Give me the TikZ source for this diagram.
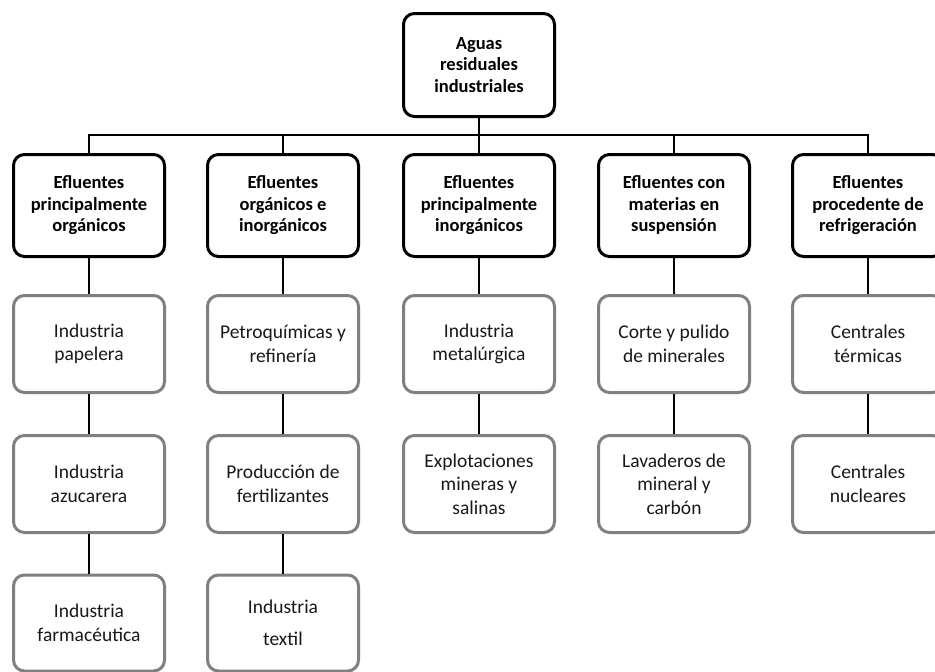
\documentclass[tikz,border=0pt]{standalone}
\usepackage{fontspec}
\setmainfont{Carlito}
\usetikzlibrary{shadows}
\begin{document}
\begin{tikzpicture}[x=1pt,y=-1pt,
  mainbox/.style={draw=black,line width=3pt,rounded corners=11pt,fill=white,
    drop shadow={opacity=0.2,shadow xshift=1.5pt,shadow yshift=-1.5pt},
    minimum width=151pt,minimum height=102pt,align=center,inner sep=2pt,
    font=\bfseries\fontsize{18.5}{21.5}\selectfont,text=black},
  subbox/.style={draw=black!50,line width=3pt,rounded corners=11pt,fill=white,
    drop shadow={opacity=0.15,shadow xshift=1.5pt,shadow yshift=-1.5pt},
    minimum width=151pt,minimum height=97pt,align=center,inner sep=2pt,
    font=\fontsize{19.5}{23.5}\selectfont,text=black!90},
  conn/.style={draw=black,line width=2pt}]
\useasboundingbox (0,0) rectangle (935,672);
% top
\node[mainbox,minimum height=103pt] (top) at (479,65) {Aguas\\residuales\\industriales};
% level 1
\node[mainbox] (e1) at (89,205.5) {Efluentes\\principalmente\\orgánicos};
\node[mainbox] (e2) at (283,205.5) {Efluentes\\orgánicos e\\inorgánicos};
\node[mainbox] (e3) at (479,205.5) {Efluentes\\principalmente\\inorgánicos};
\node[mainbox] (e4) at (674,205.5) {Efluentes con\\materias en\\suspensión};
\node[mainbox] (e5) at (868,205.5) {Efluentes\\procedente de\\refrigeración};
% level 2
\node[subbox] (a1) at (89,344) {Industria\\papelera};
\node[subbox] (b1) at (283,344) {Petroquímicas y\\refinería};
\node[subbox] (c1) at (479,344) {Industria\\metalúrgica};
\node[subbox] (d1) at (674,344) {Corte y pulido\\de minerales};
\node[subbox] (f1) at (868,344) {Centrales\\térmicas};
% level 3
\node[subbox] (a2) at (89,484) {Industria\\azucarera};
\node[subbox] (b2) at (283,484) {Producción de\\fertilizantes};
\node[subbox] (c2) at (479,484) {Explotaciones\\mineras y\\salinas};
\node[subbox] (d2) at (674,484) {Lavaderos de\\mineral y\\carbón};
\node[subbox] (f2) at (868,484) {Centrales\\nucleares};
% level 4
\node[subbox,minimum height=96pt] (a3) at (89,623) {Industria\\farmacéutica};
\node[subbox,minimum height=96pt,font=\fontsize{19.5}{32}\selectfont] (b3) at (283,623) {Industria\\textil};
% connectors
\coordinate (bar) at (479,134.5);
\draw[conn] (top.south) -- (bar);
\draw[conn] (e1.north) |- (bar) -| (e5.north);
\draw[conn] (e2.north) -- (e2.north |- bar);
\draw[conn] (e3.north) -- (bar);
\draw[conn] (e4.north) -- (e4.north |- bar);
\foreach \u/\v in {e1/a1,a1/a2,a2/a3,e2/b1,b1/b2,b2/b3,e3/c1,c1/c2,e4/d1,d1/d2,e5/f1,f1/f2}
  \draw[conn] (\u.south) -- (\v.north);
\end{tikzpicture}
\end{document}
